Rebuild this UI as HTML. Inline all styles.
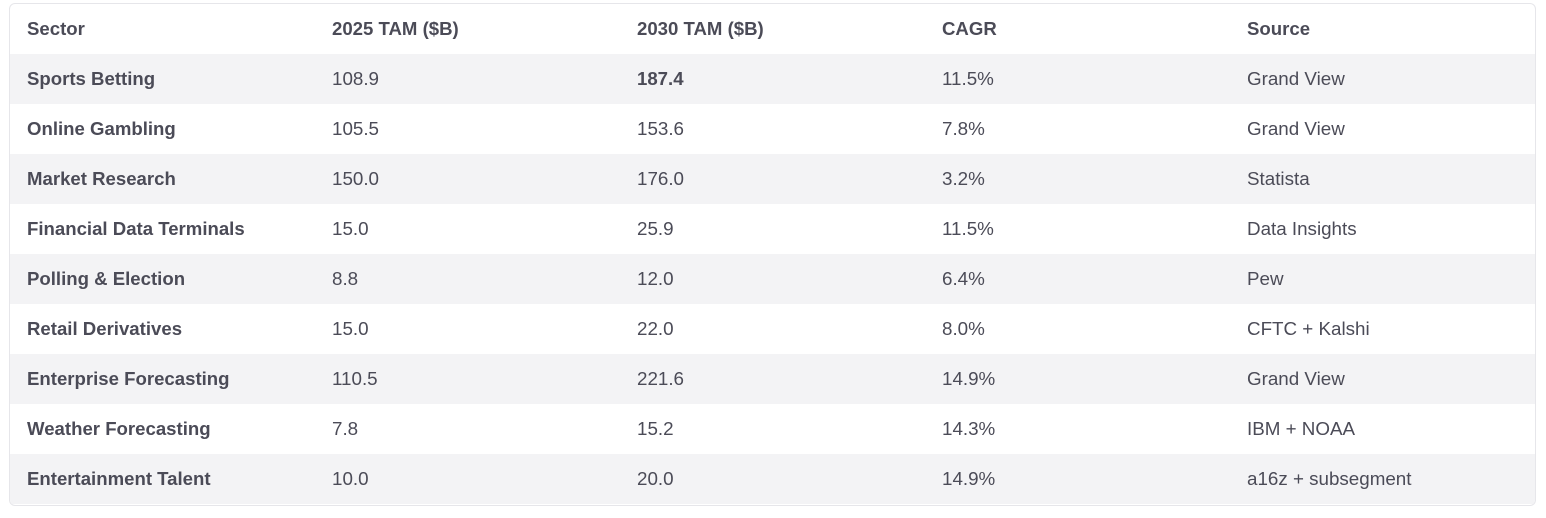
<!DOCTYPE html>
<html><head><style>
body{margin:0;background:#fff;width:1546px;height:518px;overflow:hidden;font-family:"Liberation Sans",sans-serif;}
.card{position:absolute;left:9px;top:3px;width:1525px;height:501px;border:1px solid #e6e6ea;border-radius:6px;overflow:hidden;background:#fff;}
.row{position:absolute;left:0;width:1525px;height:50px;}
.row.g{background:#f3f3f5;}
.c{position:absolute;top:0;line-height:50px;font-size:18.8px;color:#4b4b57;white-space:nowrap;}
.b{font-weight:bold;font-size:18.6px;}
</style></head><body>
<div class="card">
<div class="row" style="top:0"><span class="c b" style="left:17px">Sector</span><span class="c b" style="left:322px">2025 TAM ($B)</span><span class="c b" style="left:627px">2030 TAM ($B)</span><span class="c b" style="left:932px">CAGR</span><span class="c b" style="left:1237px">Source</span></div>
<div class="row g" style="top:50px"><span class="c b" style="left:17px">Sports Betting</span><span class="c" style="left:322px">108.9</span><span class="c b" style="left:627px">187.4</span><span class="c" style="left:932px">11.5%</span><span class="c" style="left:1237px">Grand View</span></div>
<div class="row" style="top:100px"><span class="c b" style="left:17px">Online Gambling</span><span class="c" style="left:322px">105.5</span><span class="c" style="left:627px">153.6</span><span class="c" style="left:932px">7.8%</span><span class="c" style="left:1237px">Grand View</span></div>
<div class="row g" style="top:150px"><span class="c b" style="left:17px">Market Research</span><span class="c" style="left:322px">150.0</span><span class="c" style="left:627px">176.0</span><span class="c" style="left:932px">3.2%</span><span class="c" style="left:1237px">Statista</span></div>
<div class="row" style="top:200px"><span class="c b" style="left:17px">Financial Data Terminals</span><span class="c" style="left:322px">15.0</span><span class="c" style="left:627px">25.9</span><span class="c" style="left:932px">11.5%</span><span class="c" style="left:1237px">Data Insights</span></div>
<div class="row g" style="top:250px"><span class="c b" style="left:17px">Polling &amp; Election</span><span class="c" style="left:322px">8.8</span><span class="c" style="left:627px">12.0</span><span class="c" style="left:932px">6.4%</span><span class="c" style="left:1237px">Pew</span></div>
<div class="row" style="top:300px"><span class="c b" style="left:17px">Retail Derivatives</span><span class="c" style="left:322px">15.0</span><span class="c" style="left:627px">22.0</span><span class="c" style="left:932px">8.0%</span><span class="c" style="left:1237px">CFTC + Kalshi</span></div>
<div class="row g" style="top:350px"><span class="c b" style="left:17px">Enterprise Forecasting</span><span class="c" style="left:322px">110.5</span><span class="c" style="left:627px">221.6</span><span class="c" style="left:932px">14.9%</span><span class="c" style="left:1237px">Grand View</span></div>
<div class="row" style="top:400px"><span class="c b" style="left:17px">Weather Forecasting</span><span class="c" style="left:322px">7.8</span><span class="c" style="left:627px">15.2</span><span class="c" style="left:932px">14.3%</span><span class="c" style="left:1237px">IBM + NOAA</span></div>
<div class="row g" style="top:450px"><span class="c b" style="left:17px">Entertainment Talent</span><span class="c" style="left:322px">10.0</span><span class="c" style="left:627px">20.0</span><span class="c" style="left:932px">14.9%</span><span class="c" style="left:1237px">a16z + subsegment</span></div>
</div>
</body></html>
